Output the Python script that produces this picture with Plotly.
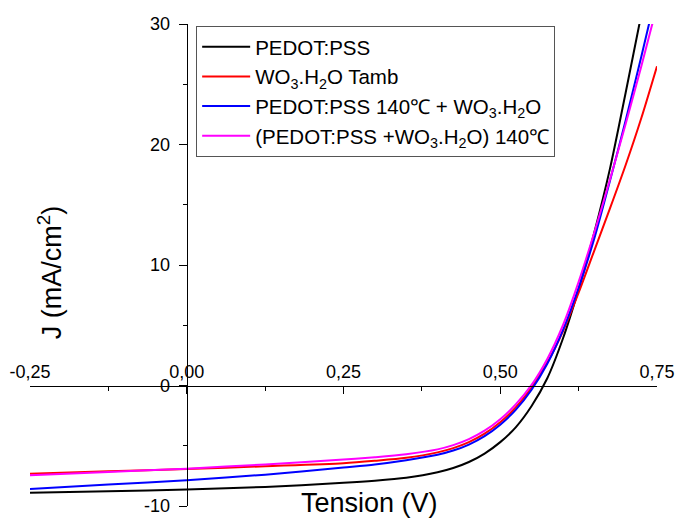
import plotly.graph_objects as go

# Voltage grid (V)
voltage = [-0.25, -0.125, 0.0, 0.125, 0.25, 0.3, 0.35, 0.4, 0.425, 0.45, 0.475,
           0.5, 0.525, 0.55, 0.575, 0.6, 0.625, 0.65, 0.675, 0.7, 0.725, 0.75]

# Current density (mA/cm2)
j_pedot = [-8.9, -8.77, -8.63, -8.42, -8.08, -7.9, -7.65, -7.2, -6.85, -6.35, -5.65,
           -4.7, -3.45, -1.7, 0.6, 3.9, 8.0, 12.7, 18.0, 24.3, 30.8, 37.2]
j_wo3_tamb = [-7.32, -7.12, -6.93, -6.7, -6.45, -6.25, -6.0, -5.55, -5.2, -4.7, -4.0,
              -3.05, -1.8, -0.15, 1.9, 4.5, 7.7, 11.2, 14.7, 18.3, 22.2, 26.5]
j_pedot140_wo3 = [-8.58, -8.22, -7.86, -7.4, -6.8, -6.55, -6.2, -5.75, -5.4, -4.9, -4.2,
                  -3.25, -2.0, -0.35, 1.8, 4.6, 8.1, 12.2, 17.0, 22.0, 27.3, 32.8]
j_mix140 = [-7.45, -7.17, -6.9, -6.55, -6.15, -5.95, -5.7, -5.3, -4.95, -4.45, -3.75,
            -2.8, -1.55, 0.05, 2.2, 5.0, 8.6, 12.7, 17.1, 21.7, 26.5, 31.5]

series_names = [
    "PEDOT:PSS",
    "WO<sub>3</sub>.H<sub>2</sub>O Tamb",
    "PEDOT:PSS 140\u2103 + WO<sub>3</sub>.H<sub>2</sub>O",
    "(PEDOT:PSS +WO<sub>3</sub>.H<sub>2</sub>O) 140\u2103",
]
series_values = [j_pedot, j_wo3_tamb, j_pedot140_wo3, j_mix140]
series_colors = ["#000000", "#FF0000", "#0000FF", "#FF00FF"]

x_ticks = [-0.25, 0.0, 0.25, 0.5, 0.75]
y_ticks = [-10, 0, 10, 20, 30]
x_ticktext = [f"{v:.2f}".replace(".", ",") for v in x_ticks]
y_ticktext = [str(v) for v in y_ticks]

FONT = "Liberation Sans, Arial, sans-serif"

fig = go.Figure()
for name, vals, col in zip(series_names, series_values, series_colors):
    fig.add_trace(go.Scatter(x=voltage, y=vals, mode="lines", name=name,
                             line=dict(color=col, width=2, shape="spline", smoothing=0.8)))

fig.update_layout(
    width=679, height=518,
    margin=dict(l=30, r=22, t=24, b=12),
    paper_bgcolor="white", plot_bgcolor="white",
    font=dict(family=FONT, size=18, color="black"),
    showlegend=True,
    legend=dict(x=0.265, y=0.996, xanchor="left", yanchor="top",
                bgcolor="white", bordercolor="#555555", borderwidth=1,
                font=dict(family=FONT, size=20.5, color="black"),
                tracegroupgap=0, itemwidth=48),
    xaxis=dict(range=[-0.25, 0.75], tickvals=x_ticks, ticktext=x_ticktext,
               side="top", anchor="free", position=0.25, automargin=False,
               ticks="inside", ticklen=7, tickwidth=1, tickcolor="black",
               showline=True, linecolor="black", linewidth=1.3,
               showgrid=False, zeroline=False,
               minor=dict(ticks="inside", dtick=0.125, tick0=0, ticklen=4,
                          tickcolor="black", showgrid=False),
               tickfont=dict(family=FONT, size=18, color="black")),
    yaxis=dict(range=[-10, 30], tickvals=y_ticks, ticktext=y_ticktext,
               side="left", anchor="free", position=0.25, automargin=False,
               ticks="outside", ticklen=8, tickwidth=1, tickcolor="black",
               ticklabelstandoff=5,
               showline=True, linecolor="black", linewidth=1.3,
               showgrid=False, zeroline=False,
               minor=dict(ticks="outside", dtick=5, tick0=0, ticklen=4,
                          tickcolor="black", showgrid=False),
               tickfont=dict(family=FONT, size=18, color="black")),
    annotations=[
        dict(text="J (mA/cm<sup>2</sup>)", textangle=-90, xref="paper", yref="paper",
             x=0.032, y=0.485, xanchor="center", yanchor="middle", showarrow=False,
             font=dict(family=FONT, size=27, color="black")),
        dict(text="Tension (V)", xref="paper", yref="paper",
             x=0.542, y=0.006, xanchor="center", yanchor="middle", showarrow=False,
             font=dict(family=FONT, size=27, color="black")),
    ],
)

fig.write_html("out.html", config={"displayModeBar": False},
               post_script="document.body.style.margin='0';document.body.style.overflow='hidden';")
